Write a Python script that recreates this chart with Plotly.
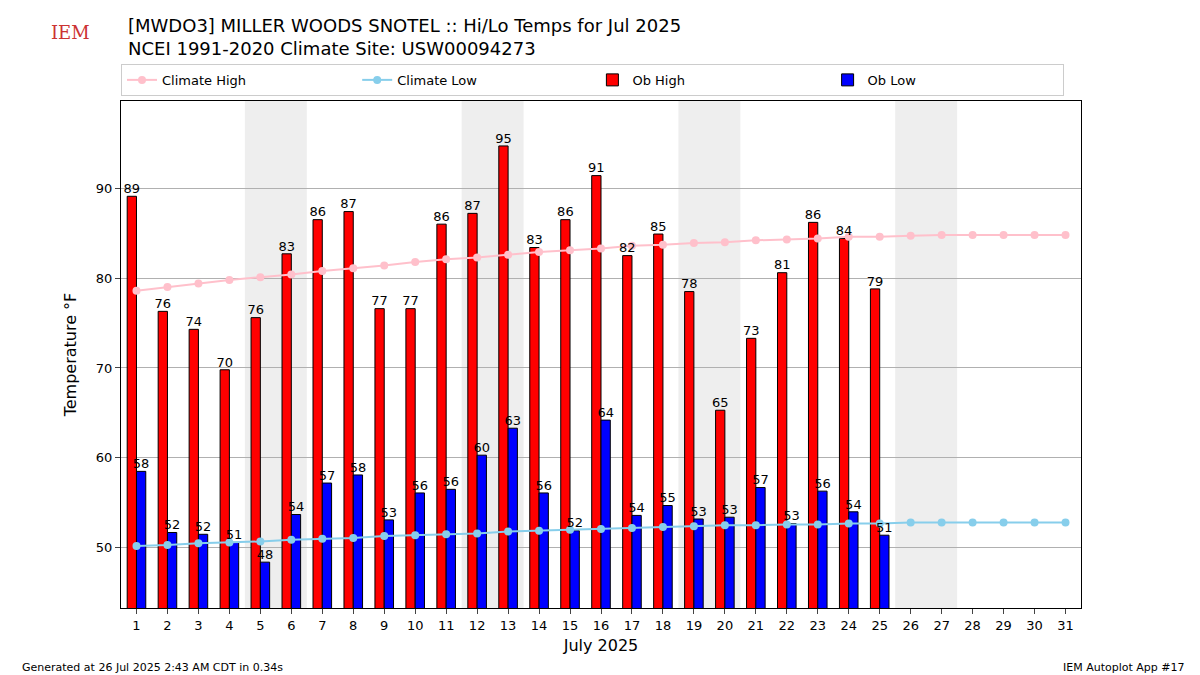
import plotly.graph_objects as go

days = list(range(1, 32))
ob_days = list(range(1, 26))
climate_high = [78.6, 79.0, 79.4, 79.8, 80.1, 80.4, 80.8, 81.1, 81.4, 81.8, 82.1, 82.3, 82.6, 82.9,
                83.1, 83.3, 83.6, 83.7, 83.9, 84.0, 84.2, 84.3, 84.4, 84.6, 84.6, 84.7, 84.8, 84.8,
                84.8, 84.8, 84.8]
climate_low = [50.2, 50.3, 50.5, 50.6, 50.7, 50.9, 51.0, 51.1, 51.3, 51.4, 51.5, 51.6, 51.8, 51.9,
               52.0, 52.1, 52.2, 52.3, 52.4, 52.5, 52.5, 52.6, 52.6, 52.7, 52.7, 52.8, 52.8, 52.8,
               52.8, 52.8, 52.8]
ob_high = [89.1, 76.3, 74.3, 69.8, 75.6, 82.7, 86.5, 87.4, 76.6, 76.6, 86.0, 87.2, 94.7, 83.4,
           86.5, 91.4, 82.5, 84.9, 78.5, 65.3, 73.3, 80.6, 86.2, 84.4, 78.8]
ob_low = [58.5, 51.7, 51.5, 50.6, 48.4, 53.7, 57.2, 58.1, 53.1, 56.1, 56.5, 60.3, 63.3, 56.1,
          51.9, 64.2, 53.6, 54.7, 53.2, 53.4, 56.7, 52.7, 56.3, 54.0, 51.4]
weekends = [5, 12, 19, 26]

fig = go.Figure()
fig.add_trace(go.Scatter(x=days, y=climate_high, mode="lines+markers", name="Climate High",
                         line=dict(color="pink", width=2), marker=dict(size=8, color="pink")))
fig.add_trace(go.Scatter(x=days, y=climate_low, mode="lines+markers", name="Climate Low",
                         line=dict(color="skyblue", width=2), marker=dict(size=8, color="skyblue")))
fig.add_trace(go.Bar(x=ob_days, y=ob_high, name="Ob High", width=0.3, offset=-0.3,
                     marker=dict(color="red", line=dict(color="black", width=1))))
fig.add_trace(go.Bar(x=ob_days, y=ob_low, name="Ob Low", width=0.3, offset=0,
                     marker=dict(color="blue", line=dict(color="black", width=1))))
fig.add_trace(go.Scatter(x=[d - 0.15 for d in ob_days], y=ob_high, mode="text",
                         text=[f"{round(v)}" for v in ob_high], textposition="top center",
                         textfont=dict(size=13, color="black"), showlegend=False, cliponaxis=False))
fig.add_trace(go.Scatter(x=[d + 0.15 for d in ob_days], y=ob_low, mode="text",
                         text=[f"{round(v)}" for v in ob_low], textposition="top center",
                         textfont=dict(size=13, color="black"), showlegend=False, cliponaxis=False))

for d in weekends:
    fig.add_vrect(x0=d - 0.5, x1=d + 1.5, fillcolor="#eeeeee", opacity=1, line_width=0, layer="below")

fig.update_layout(
    width=1200, height=675, plot_bgcolor="white", paper_bgcolor="white",
    font=dict(family="DejaVu Sans", size=13, color="black"),
    margin=dict(l=113, r=127, t=93, b=75, autoexpand=False),
    barmode="overlay",
    title=dict(text="[MWDO3] MILLER WOODS SNOTEL :: Hi/Lo Temps for Jul 2025<br>NCEI 1991-2020 Climate Site: USW00094273",
               x=0.1, xanchor="left", y=0.965, yanchor="top", font=dict(size=18)),
    legend=dict(orientation="h", x=0, xanchor="left", y=1.01, yanchor="bottom",
                bordercolor="#cccccc", borderwidth=1, entrywidth=0.245, entrywidthmode="fraction",
                font=dict(size=13)),
    xaxis=dict(range=[0.5, 31.5], tickmode="array", tickvals=days, ticks="outside",
               showline=True, linecolor="black", mirror=True, showgrid=False,
               title=dict(text="July 2025", font=dict(size=16), standoff=8)),
    yaxis=dict(range=[43.3, 99.7], tickvals=[50, 60, 70, 80, 90], ticks="outside",
               showline=True, linecolor="black", mirror=True, gridcolor="#b0b0b0",
               title=dict(text="Temperature °F"), zeroline=False),
)
fig.add_annotation(text="Generated at 26 Jul 2025 2:43 AM CDT in 0.34s", xref="paper", yref="paper",
                   x=-0.105, y=-0.1, xanchor="left", yanchor="top", showarrow=False, font=dict(size=11))
fig.add_annotation(text="IEM Autoplot App #17", xref="paper", yref="paper",
                   x=1.11, y=-0.1, xanchor="right", yanchor="top", showarrow=False, font=dict(size=11))
fig.add_annotation(text="IEM", xref="paper", yref="paper", x=-0.075, y=1.16, showarrow=False,
                   font=dict(size=18, color="#cc3333", family="DejaVu Serif"))
fig.write_html("out.html")
